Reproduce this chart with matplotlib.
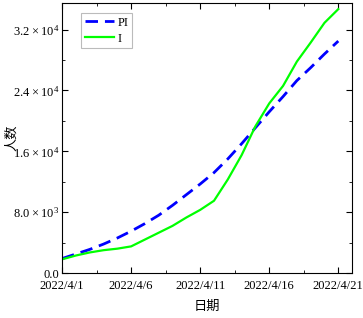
import numpy as np
import matplotlib.pyplot as plt
from matplotlib.ticker import MultipleLocator, FuncFormatter

plt.rcParams['font.family'] = ['Liberation Serif', 'Noto Sans CJK SC']
plt.rcParams['mathtext.fontset'] = 'custom'
plt.rcParams['mathtext.rm'] = 'Liberation Serif'

# day index 0 = 2022/4/1
days = np.arange(21)
pi_vals = [1900, 2500, 3100, 3800, 4600, 5500, 6500, 7600, 8900, 10300, 11700,
           13200, 15000, 17000, 19100, 21200, 23200, 25300, 27000, 28800, 30500]
i_vals = [1800, 2300, 2700, 3000, 3200, 3500, 4400, 5300, 6200, 7300, 8300,
          9500, 12300, 15500, 19300, 22300, 24600, 27800, 30300, 32900, 34700]
tick_days = [0, 5, 10, 15, 20]
tick_labels = ['2022/4/1', '2022/4/6', '2022/4/11', '2022/4/16', '2022/4/21']


def yfmt(v, pos):
    if v <= 0:
        return '0.0'
    e = int(np.floor(np.log10(v)))
    m = v / 10 ** e
    return r'$\mathregular{%.1f\times10^{%d}}$' % (m, e)


fig = plt.figure(figsize=(3.63, 3.18), dpi=100)
ax = fig.add_axes([0.171, 0.1415, 0.799, 0.849])

ax.plot(days, pi_vals, color='#0000ff', lw=2, dashes=(4.5, 2.5), label='PI')
ax.plot(days, i_vals, color='#00ff00', lw=1.6, label='I')

ax.set_xlim(0, 21)
ax.set_ylim(0, 35500)
ax.set_xticks(tick_days)
ax.set_xticklabels(tick_labels)
ax.xaxis.set_minor_locator(MultipleLocator(2.5))
ax.yaxis.set_major_locator(MultipleLocator(8000))
ax.yaxis.set_minor_locator(MultipleLocator(4000))
ax.yaxis.set_major_formatter(FuncFormatter(yfmt))

ax.tick_params(which='both', direction='in', top=True, right=True,
               labelsize=9)
ax.tick_params(axis='x', pad=5)
ax.tick_params(axis='y', pad=2)
ax.tick_params(which='major', length=4)
ax.tick_params(which='minor', length=2)

ax.set_xlabel('日期', fontsize=9.5, family=['Noto Sans CJK SC'])
ax.set_ylabel('人数', fontsize=9.5, family=['Noto Sans CJK SC'])
ax.xaxis.set_label_coords(0.5, -0.1)
ax.yaxis.set_label_coords(-0.15, 0.5)

leg = ax.legend(loc='upper left', bbox_to_anchor=(0.066, 0.963), fontsize=9,
                fancybox=False, edgecolor='#aaaaaa', handlelength=2.3,
                borderpad=0.3, labelspacing=0.3, handletextpad=0.3,
                borderaxespad=0)
leg.get_frame().set_linewidth(0.8)

fig.savefig('out.png', dpi=100)
